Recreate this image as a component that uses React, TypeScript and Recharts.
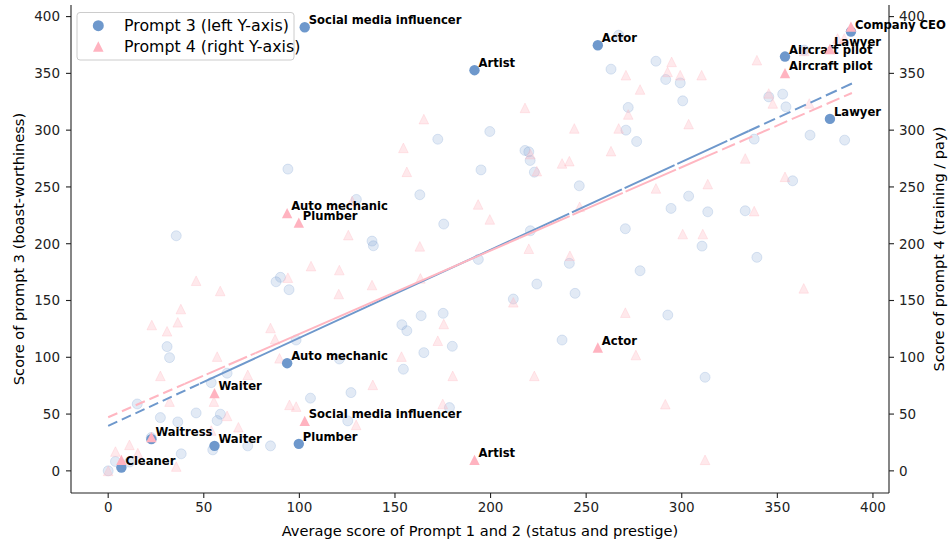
import { ComposedChart, Scatter, XAxis, YAxis, Customized } from 'recharts';

// faded background points: occupation x (avg of prompt 1 & 2) and score
const prompt3Points = [
  { x: 0, y: 0 }, { x: 3.8, y: 8.2 }, { x: 11.1, y: 7.7 }, { x: 15.2, y: 58.9 }, { x: 22.5, y: 29.3 },
  { x: 27.3, y: 46.9 }, { x: 30.8, y: 109.4 }, { x: 32.1, y: 99.7 }, { x: 36.4, y: 43.1 }, { x: 38.2, y: 15 },
  { x: 35.6, y: 207 }, { x: 46, y: 51 }, { x: 53.9, y: 77.7 }, { x: 54.7, y: 18.5 }, { x: 57, y: 44.3 },
  { x: 58.7, y: 49.9 }, { x: 62.2, y: 86 }, { x: 73, y: 22 }, { x: 84.9, y: 22 }, { x: 87.8, y: 166.5 },
  { x: 90.1, y: 170.4 }, { x: 94.6, y: 159.5 }, { x: 94, y: 265.7 }, { x: 98.3, y: 115.2 }, { x: 105.8, y: 64 },
  { x: 120.9, y: 98.5 }, { x: 127, y: 68.9 }, { x: 125.3, y: 44 }, { x: 129.8, y: 239 }, { x: 138, y: 202.3 },
  { x: 138.7, y: 198.2 }, { x: 153.6, y: 128.7 }, { x: 156.2, y: 123.4 }, { x: 154.4, y: 89.5 }, { x: 163, y: 243.1 },
  { x: 163.7, y: 136.6 }, { x: 165.1, y: 104.1 }, { x: 172.4, y: 292 }, { x: 175.2, y: 138.7 }, { x: 175.5, y: 217.3 },
  { x: 180, y: 109.7 }, { x: 178.5, y: 55.7 }, { x: 195, y: 265 }, { x: 199.6, y: 298.8 }, { x: 193.6, y: 186.2 },
  { x: 211.9, y: 151.3 }, { x: 218, y: 282.1 }, { x: 220, y: 280.9 }, { x: 220.7, y: 273.3 }, { x: 222.9, y: 263 },
  { x: 220.8, y: 211.4 }, { x: 224.2, y: 164.5 }, { x: 237.4, y: 115.2 }, { x: 241.2, y: 182.7 }, { x: 244.2, y: 156.3 },
  { x: 246.4, y: 251 }, { x: 263, y: 353.7 }, { x: 267, y: 383.6 }, { x: 270.8, y: 300 }, { x: 272, y: 320 },
  { x: 276.4, y: 290 }, { x: 270.5, y: 213.2 }, { x: 278.2, y: 176.2 }, { x: 286.5, y: 360.7 }, { x: 291.6, y: 344.6 },
  { x: 299.2, y: 341.6 }, { x: 300.5, y: 325.8 }, { x: 294.4, y: 231.1 }, { x: 303.6, y: 241.9 }, { x: 313.6, y: 228.1 },
  { x: 310.6, y: 197.9 }, { x: 292.7, y: 137.2 }, { x: 312.2, y: 82.4 }, { x: 333.2, y: 229 }, { x: 339.3, y: 188 },
  { x: 337.9, y: 292.1 }, { x: 345.5, y: 329.3 }, { x: 352.8, y: 331.7 }, { x: 354.5, y: 320.5 }, { x: 358, y: 255.4 },
  { x: 364.1, y: 370.4 }, { x: 367.1, y: 295.6 }, { x: 385.2, y: 291.2 },
];

const prompt4Points = [
  { x: 0, y: 0 }, { x: 3.8, y: 17 }, { x: 11.1, y: 22.9 }, { x: 15.5, y: 15.6 }, { x: 22.8, y: 128.4 },
  { x: 27.3, y: 83.6 }, { x: 30.8, y: 122.9 }, { x: 32.1, y: 61 }, { x: 36.4, y: 130.8 }, { x: 38, y: 142.5 },
  { x: 35.6, y: 3.8 }, { x: 46, y: 167.4 }, { x: 53.9, y: 35.5 }, { x: 55.3, y: 61 }, { x: 57, y: 100.6 },
  { x: 58.6, y: 158.4 }, { x: 62.2, y: 48.4 }, { x: 68.1, y: 38.4 }, { x: 73, y: 84.5 }, { x: 84.9, y: 125.8 },
  { x: 87.3, y: 115.9 }, { x: 89.6, y: 99.1 }, { x: 94, y: 170.1 }, { x: 94.8, y: 58.1 }, { x: 98.3, y: 56.6 },
  { x: 106.1, y: 180.3 }, { x: 120.9, y: 176.8 }, { x: 120.6, y: 155.7 }, { x: 125.6, y: 207.6 }, { x: 127.6, y: 237.5 },
  { x: 129.7, y: 40.5 }, { x: 138.4, y: 75.7 }, { x: 138, y: 163.6 }, { x: 153.4, y: 100.6 }, { x: 154.4, y: 284.4 },
  { x: 156.2, y: 263.3 }, { x: 163, y: 197.7 }, { x: 163.3, y: 169.5 }, { x: 165.1, y: 309.7 }, { x: 172.4, y: 114.6 },
  { x: 175, y: 58.9 }, { x: 175.5, y: 129.3 }, { x: 180.2, y: 83.6 }, { x: 193.5, y: 234.6 }, { x: 199.6, y: 221.4 },
  { x: 211.9, y: 148.4 }, { x: 218, y: 319.6 }, { x: 220.8, y: 278.9 }, { x: 220, y: 195.6 }, { x: 222.9, y: 83.6 },
  { x: 224.2, y: 263.9 }, { x: 237.4, y: 270.7 }, { x: 241.2, y: 272.7 }, { x: 241.5, y: 189.4 }, { x: 243.8, y: 301.5 },
  { x: 246.6, y: 232.5 }, { x: 263, y: 281.5 }, { x: 267, y: 301.5 }, { x: 270.8, y: 348.4 }, { x: 272, y: 313.8 },
  { x: 270.5, y: 139.3 }, { x: 276, y: 102 }, { x: 278.2, y: 335.8 }, { x: 286.5, y: 248.7 }, { x: 294.7, y: 360.1 },
  { x: 292.6, y: 351.3 }, { x: 299.2, y: 348.4 }, { x: 310.4, y: 348.4 }, { x: 303.6, y: 305.3 }, { x: 300.5, y: 208.5 },
  { x: 311, y: 208.5 }, { x: 313.6, y: 252.5 }, { x: 291.4, y: 58.7 }, { x: 312.2, y: 9.7 }, { x: 333.2, y: 275.1 },
  { x: 337.9, y: 228.7 }, { x: 339.3, y: 361.6 }, { x: 345.5, y: 332.3 }, { x: 347.6, y: 323.5 }, { x: 354, y: 258.9 },
  { x: 363.8, y: 160.7 }, { x: 364.1, y: 369.8 }, { x: 366.7, y: 323.5 }, { x: 381.5, y: 380.7 }, { x: 385, y: 380.7 },
];

// highlighted occupations
const highlightNames = ['Social media influencer', 'Artist', 'Actor', 'Aircraft pilot', 'Company CEO', 'Lawyer',
  'Auto mechanic', 'Waiter', 'Plumber', 'Waitress', 'Cleaner'];
const highlightX = [102.8, 191.6, 256.1, 354, 388.5, 377.5, 93.6, 55.6, 99.7, 22.6, 6.9];
const highlightP3 = [390.6, 352.8, 374.8, 364.8, 386.8, 309.9, 94.8, 22, 23.8, 27.9, 2.9];
const highlightP4 = [44, 9.7, 108.6, 350.2, 391.2, 371.5, 226.9, 68.4, 218.6, 29.7, 9.7];
const showP4Label = [true, true, true, true, false, true, true, true, true, false, false];

// fitted lines (intercept, slope) and where the dash style changes
const fitP3 = { intercept: 39.6, slope: 0.775 };
const fitP4 = { intercept: 47.2, slope: 0.734 };
const segsP3 = [
  { from: 0, to: 48, dash: '10 5' },
  { from: 48, to: 215, dash: '' },
  { from: 215, to: 335, dash: '55 3' },
  { from: 335, to: 389, dash: '12 5' },
];
const segsP4 = [
  { from: 0, to: 40, dash: '10 5' },
  { from: 40, to: 77, dash: '20 4' },
  { from: 77, to: 215, dash: '' },
  { from: 215, to: 312, dash: '55 3' },
  { from: 312, to: 389, dash: '14 5' },
];

const xTicks = [0, 50, 100, 150, 200, 250, 300, 350, 400];
const yTicks = [0, 50, 100, 150, 200, 250, 300, 350, 400];

const BLUE = '#6e98cc';
const PINK = '#ffb3c0';
const FONT = 'DejaVu Sans, sans-serif';

const p3High = highlightNames.map((name, i) => ({ name, x: highlightX[i], y: highlightP3[i], label: true }));
const p4High = highlightNames.map((name, i) => ({ name, x: highlightX[i], y: highlightP4[i], label: showP4Label[i] }));

const segData = (fit: { intercept: number; slope: number }, s: { from: number; to: number }) => [
  { x: s.from, y: fit.intercept + fit.slope * s.from },
  { x: s.to, y: fit.intercept + fit.slope * s.to },
];

const tri = (cx: number, cy: number, r: number) =>
  `M${cx},${cy - r}L${cx - r},${cy + r}L${cx + r},${cy + r}Z`;

const FadedCircle = (p: any) => (
  <circle cx={p.cx} cy={p.cy} r={5} fill={BLUE} fillOpacity={0.2} stroke={BLUE} strokeOpacity={0.22} strokeWidth={1} />
);
const FadedTri = (p: any) => (
  <path d={tri(p.cx, p.cy, 4.8)} fill="#ffb6c1" fillOpacity={0.3} stroke="#ffb6c1" strokeOpacity={0.3} strokeWidth={1} />
);
const labelText = (p: any) =>
  p.payload.label ? (
    <text x={p.cx + 4} y={p.cy - 3} fontSize={11.6} fontWeight="bold" fontFamily={FONT} fill="#000">
      {p.payload.name}
    </text>
  ) : null;
const HighCircle = (p: any) => (
  <g>
    <circle cx={p.cx} cy={p.cy} r={5.2} fill={BLUE} />
    {labelText(p)}
  </g>
);
const HighTri = (p: any) => (
  <g>
    <path d={tri(p.cx, p.cy, 5.2)} fill={PINK} />
    {labelText(p)}
  </g>
);
const NoShape = () => <g />;

const Overlay = () => (
  <g fontFamily={FONT} fill="#000">
    <text x={480} y={530} fontSize={14.6} textAnchor="middle" dominantBaseline="central">
      Average score of Prompt 1 and 2 (status and prestige)
    </text>
    <text x={18} y={249} fontSize={14.6} textAnchor="middle" dominantBaseline="central" transform="rotate(-90 18 249)">
      Score of prompt 3 (boast-worthiness)
    </text>
    <text x={938} y={249} fontSize={14.6} textAnchor="middle" dominantBaseline="central" transform="rotate(-90 938 249)">
      Score of prompt 4 (training / pay)
    </text>
    <rect x={77} y={12.5} width={217} height={47.5} rx={3} fill="#fff" fillOpacity={0.8} stroke="#cccccc" strokeWidth={1} />
    <circle cx={98.3} cy={25.7} r={5.5} fill={BLUE} />
    <text x={124} y={25.7} fontSize={15.8} dominantBaseline="central">Prompt 3 (left Y-axis)</text>
    <path d={tri(98.3, 46.5, 5.3)} fill={PINK} />
    <text x={124} y={46.5} fontSize={15.8} dominantBaseline="central">Prompt 4 (right Y-axis)</text>
  </g>
);

const tickStyle = { fill: '#222', fontSize: 13.5, fontFamily: FONT };
const axisLine = { stroke: '#222', strokeWidth: 1.1 };

export default function App() {
  return (
    <div style={{ position: 'absolute', left: 0, top: 0, background: '#fff' }}>
      <ComposedChart width={949} height={542} margin={{ top: 5, right: 0, bottom: 0, left: 0 }}>
        <XAxis
          dataKey="x"
          type="number"
          domain={[-19.45, 408.4]}
          ticks={xTicks}
          height={49}
          tick={tickStyle}
          tickSize={5}
          tickMargin={4}
          axisLine={axisLine}
          tickLine={axisLine}
        />
        <XAxis xAxisId="top" orientation="top" type="number" domain={[-19.45, 408.4]} height={0} tick={false} tickLine={false} axisLine={axisLine} />
        <YAxis
          yAxisId="left"
          dataKey="y"
          type="number"
          domain={[-19.5, 410.2]}
          ticks={yTicks}
          width={71}
          tick={tickStyle}
          tickSize={5}
          tickMargin={6}
          axisLine={axisLine}
          tickLine={axisLine}
        />
        <YAxis
          yAxisId="right"
          orientation="right"
          dataKey="y"
          type="number"
          domain={[-19.5, 410.2]}
          ticks={yTicks}
          width={60}
          tick={tickStyle}
          tickSize={5}
          tickMargin={5}
          axisLine={axisLine}
          tickLine={axisLine}
        />
        <Scatter yAxisId="left" data={prompt3Points} shape={FadedCircle} isAnimationActive={false} />
        <Scatter yAxisId="right" data={prompt4Points} shape={FadedTri} isAnimationActive={false} />
        {segsP3.map((s, i) => (
          <Scatter
            key={'b' + i}
            yAxisId="left"
            data={segData(fitP3, s)}
            shape={NoShape}
            line={{ stroke: BLUE, strokeWidth: 2, strokeDasharray: s.dash || undefined }}
            isAnimationActive={false}
          />
        ))}
        {segsP4.map((s, i) => (
          <Scatter
            key={'p' + i}
            yAxisId="right"
            data={segData(fitP4, s)}
            shape={NoShape}
            line={{ stroke: '#ffb6c1', strokeWidth: 2, strokeDasharray: s.dash || undefined }}
            isAnimationActive={false}
          />
        ))}
        <Scatter yAxisId="left" data={p3High} shape={HighCircle} isAnimationActive={false} />
        <Scatter yAxisId="right" data={p4High} shape={HighTri} isAnimationActive={false} />
        <Customized component={Overlay} />
      </ComposedChart>
    </div>
  );
}
